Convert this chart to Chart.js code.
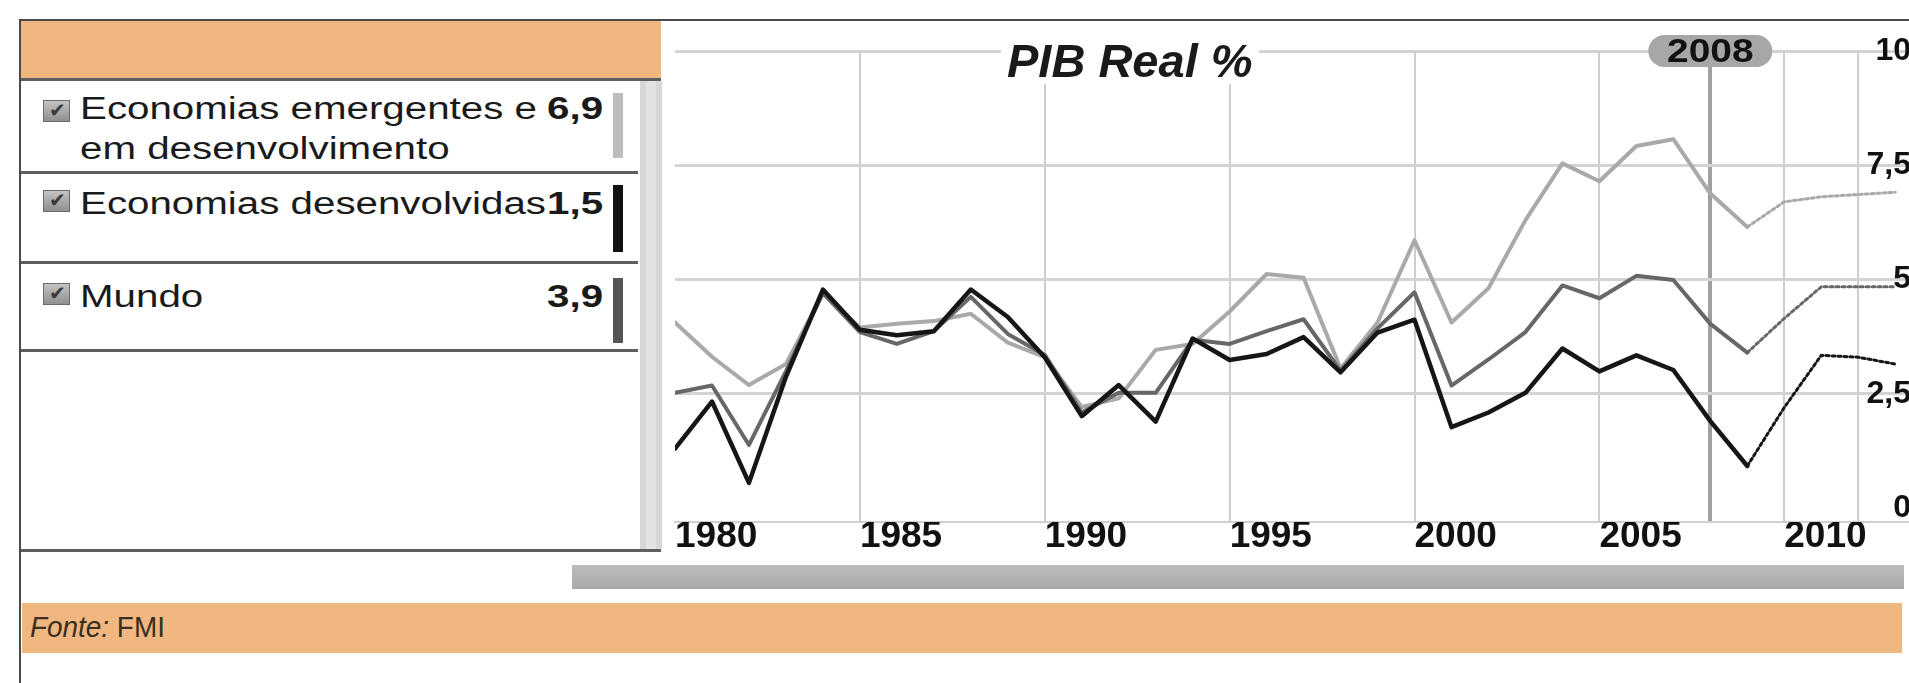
<!DOCTYPE html>
<html>
<head>
<meta charset="utf-8">
<script src="https://cdn.jsdelivr.net/npm/chart.js@4/dist/chart.umd.min.js"></script>
<style>
  html, body { margin: 0; padding: 0; width: 1909px; height: 683px; overflow: hidden; background: #ffffff;
    font-family: "Liberation Sans", Arial, Helvetica, sans-serif; }
  .abs { position: absolute; }
  .txt { position: absolute; white-space: pre; color: #1a1a1a; font-size: 31px; line-height: 40px;
    transform: scaleX(1.3); transform-origin: left top; }
  .val { position: absolute; white-space: pre; color: #1a1a1a; font-size: 31px; line-height: 40px; font-weight: bold;
    transform: scaleX(1.3); transform-origin: right top; text-align: right; }
  .cb { position: absolute; width: 27px; height: 22px; background: linear-gradient(#c4c4c4, #8f8f8f);
    border: 1px solid #6a6a6a; box-sizing: border-box; }
  .cb::after { content: "\2714"; position: absolute; left: 5px; top: -3px; font-size: 20px; color: #3a3a3a; }
  #title { position: absolute; left: 1001px; top: 37px; padding: 0 6px; background: #fff; font-size: 47px;
    line-height: 47px; font-weight: bold; font-style: italic; color: #1a1a1a; white-space: nowrap; }
  #chartWrap { position: absolute; left: 661px; top: 21px; width: 1249px; height: 536px; }
</style>
</head>
<body>
<script>
// ---------------- DATA ----------------
const years = [1980, 1981, 1982, 1983, 1984, 1985, 1986, 1987, 1988, 1989,
               1990, 1991, 1992, 1993, 1994, 1995, 1996, 1997, 1998, 1999,
               2000, 2001, 2002, 2003, 2004, 2005, 2006, 2007, 2008, 2009,
               2010, 2011, 2012, 2013];
const emerging = [4.06, 3.31, 2.69, 3.15, 4.70, 3.95, 4.03, 4.09, 4.25, 3.62,
                  3.30, 2.21, 2.40, 3.46, 3.59, 4.30, 5.12, 5.04, 3.05, 4.06,
                  5.86, 4.06, 4.81, 6.30, 7.54, 7.15, 7.92, 8.07, 6.88, 6.15,
                  6.70, 6.81, 6.86, 6.91];
const advanced = [1.30, 2.33, 0.55, 2.87, 4.78, 3.90, 3.78, 3.87, 4.78, 4.18,
                  3.30, 2.01, 2.69, 1.89, 3.71, 3.24, 3.37, 3.74, 2.97, 3.84,
                  4.12, 1.77, 2.09, 2.52, 3.49, 2.99, 3.34, 3.02, 1.90, 0.92,
                  2.20, 3.34, 3.30, 3.15];
const world = [2.52, 2.68, 1.38, 2.99, 4.70, 3.85, 3.59, 3.87, 4.62, 3.81,
               3.35, 2.09, 2.52, 2.52, 3.68, 3.59, 3.87, 4.13, 3.00, 3.93,
               4.72, 2.68, 3.25, 3.85, 4.87, 4.59, 5.08, 4.99, 4.03, 3.40,
               4.15, 4.84, 4.84, 4.84];
const seriesNames = ['Economias emergentes e\nem desenvolvimento', 'Economias desenvolvidas', 'Mundo'];
const legendValues = ['6,9', '1,5', '3,9'];
const xLabelYears = [1980, 1985, 1990, 1995, 2000, 2005, 2010];
const xGridYears = [1985, 1990, 1995, 2000, 2005, 2008, 2010, 2012];
const yTickValues = [0, 2.5, 5, 7.5, 10];
const yTickLabels = ['0', '2,5', '5', '7,5', '10'];
const highlightYear = 2008;
const projectionStart = 2009;
const chartTitle = 'PIB Real %';
const sourceLabel = 'Fonte:';
const sourceName = 'FMI';

// ---------------- STYLES / LAYOUT ----------------
const lineColors = ['#a9a9a9', '#161616', '#676767'];   // emerging, advanced, world
const barColors = ['#bdbdbd', '#111111', '#555555'];
const rowText = [89, 184, 277];
const rowCb = [100, 190, 283];
const rowBar = [93, 185, 278];
const rowBarH = [65, 67, 65];

function addDiv(style, cls, text) {
  const d = document.createElement('div');
  if (cls) d.className = cls;
  d.setAttribute('style', style);
  if (text !== undefined) d.textContent = text;
  document.body.appendChild(d);
  return d;
}

// frame + panels
addDiv('left:19px;top:19px;width:2px;height:664px;background:#4a4a4a', 'abs');
addDiv('left:19px;top:19px;width:1890px;height:2px;background:#4a4a4a', 'abs');
addDiv('left:21px;top:21px;width:640px;height:57px;background:#f0b880', 'abs');
addDiv('left:21px;top:78px;width:640px;height:3px;background:#5e5e5e', 'abs');
addDiv('left:640px;top:81px;width:22px;height:468px;background:#d7d7d7', 'abs');
addDiv('left:646px;top:81px;width:10px;height:468px;background:#e2e2e2', 'abs');
[171, 261, 349].forEach(t => addDiv('left:21px;top:' + t + 'px;width:617px;height:3px;background:#5e5e5e', 'abs'));
addDiv('left:21px;top:549px;width:640px;height:3px;background:#5e5e5e', 'abs');
addDiv('left:572px;top:565px;width:1332px;height:24px;background:linear-gradient(#bcbcbc,#a9a9a9)', 'abs');
addDiv('left:22px;top:603px;width:1880px;height:50px;background:#f0b880', 'abs');
const src = addDiv('left:30px;top:612px;font-size:30px;line-height:30px;color:#3a2f22;white-space:pre;transform:scaleX(0.93);transform-origin:left top', 'abs');
src.innerHTML = '<i>' + sourceLabel + '</i> ' + sourceName;

// legend rows
seriesNames.forEach((name, i) => {
  addDiv('left:43px;top:' + rowCb[i] + 'px', 'cb');
  addDiv('left:80px;top:' + rowText[i] + 'px', 'txt', name);
  addDiv('right:' + (1909 - 603) + 'px;top:' + rowText[i] + 'px', 'val', legendValues[i]);
  addDiv('left:613px;top:' + rowBar[i] + 'px;width:10px;height:' + rowBarH[i] + 'px;background:' + barColors[i], 'abs');
});

// chart canvas
const wrap = addDiv('', '');
wrap.id = 'chartWrap';
const canvas = document.createElement('canvas');
canvas.width = 1249; canvas.height = 536;
wrap.appendChild(canvas);
const title = addDiv('', '', chartTitle);
title.id = 'title';

const isProj = c => c.p0.parsed.x >= projectionStart;
const segStyle = { borderDash: c => isProj(c) ? [3, 3] : undefined,
                   borderWidth: c => isProj(c) ? 3 : undefined };
const pts = arr => years.map((y, i) => ({ x: y, y: arr[i] }));

const highlightPlugin = {
  id: 'highlightYear',
  afterDraw(chart) {
    const c = chart.ctx;
    const x = chart.scales.x.getPixelForValue(highlightYear);
    const cy = chart.chartArea.top;
    const w = 124, h = 32;
    c.save();
    c.fillStyle = '#a7a7a7';
    c.beginPath();
    c.roundRect(x - w / 2, cy - h / 2, w, h, h / 2);
    c.fill();
    c.fillStyle = '#111';
    c.font = 'bold 33px "Liberation Sans", Arial, sans-serif';
    c.textAlign = 'center';
    c.textBaseline = 'middle';
    c.translate(x, cy + 2);
    c.scale(1.18, 1);
    c.fillText(String(highlightYear), 0, 0);
    c.restore();
  }
};

new Chart(canvas, {
  type: 'line',
  data: {
    datasets: [
      { label: 'Economias desenvolvidas', data: pts(advanced), borderColor: lineColors[1], borderWidth: 4.5, order: 0, segment: segStyle },
      { label: 'Mundo', data: pts(world), borderColor: lineColors[2], borderWidth: 4, order: 1, segment: segStyle },
      { label: 'Economias emergentes e em desenvolvimento', data: pts(emerging), borderColor: lineColors[0], borderWidth: 4, order: 2, segment: segStyle }
    ]
  },
  options: {
    responsive: false,
    devicePixelRatio: 1,
    animation: false,
    elements: { point: { radius: 0 }, line: { tension: 0, borderJoinStyle: 'round', borderCapStyle: 'round' } },
    layout: { autoPadding: false, padding: { left: 14, top: 30, right: 0, bottom: 0 } },
    plugins: { legend: { display: false }, title: { display: false }, tooltip: { enabled: false } },
    scales: {
      x: {
        type: 'linear', min: 1980, max: 2013.4,
        afterBuildTicks: s => { s.ticks = [xLabelYears[0], ...xGridYears].map(v => ({ value: v })); },
        afterFit: s => { s.height = 35; },
        ticks: {
          align: 'start', autoSkip: false, maxRotation: 0, minRotation: 0, padding: -7,
          color: '#111', font: { family: '"Liberation Sans", Arial, sans-serif', size: 37, weight: 'bold' },
          callback: v => xLabelYears.includes(v) ? String(v) : ''
        },
        grid: {
          drawTicks: false,
          color: c => (c.tick && c.tick.value === xLabelYears[0]) ? 'rgba(0,0,0,0)' : (c.tick && c.tick.value === highlightYear ? '#a0a0a0' : '#cdcdcd'),
          lineWidth: c => (c.tick && c.tick.value === highlightYear) ? 4 : 2
        },
        border: { display: true, color: '#d0d0d0', width: 2 }
      },
      y: {
        position: 'right', min: -0.306, max: 10,
        afterBuildTicks: s => { s.ticks = yTickValues.map(v => ({ value: v })); },
        afterFit: s => { s.width = 0; },
        ticks: {
          mirror: true, padding: 1, color: '#111',
          font: { family: '"Liberation Sans", Arial, sans-serif', size: 32, weight: 'bold' },
          callback: v => { const i = yTickValues.indexOf(v); return i >= 0 ? yTickLabels[i] : ''; }
        },
        grid: {
          drawTicks: false,
          color: c => (c.tick && c.tick.value === 0) ? 'rgba(0,0,0,0)' : '#d3d3d3',
          lineWidth: 3
        },
        border: { display: false }
      }
    }
  },
  plugins: [highlightPlugin]
});
</script>
</body>
</html>
